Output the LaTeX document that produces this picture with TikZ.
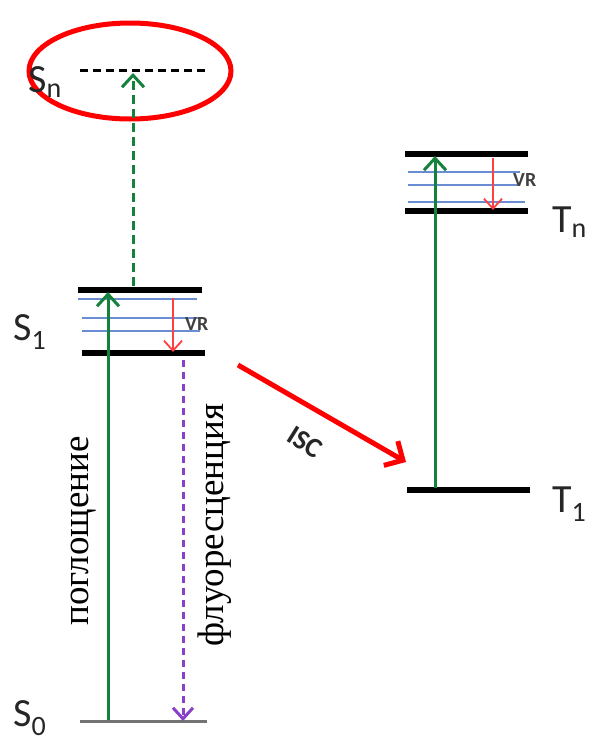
\documentclass[tikz,border=0pt]{standalone}
\usepackage{fontspec}
\setmainfont{Carlito}
\newfontfamily\rusfont{Liberation Serif}
\usetikzlibrary{arrows.meta,shapes.geometric}
\definecolor{vibblue}{RGB}{105,140,210}
\definecolor{fluor}{RGB}{135,65,200}
\definecolor{absgreen}{RGB}{20,130,60}
\begin{document}
\begin{tikzpicture}[x=1pt,y=-1pt,
  level/.style={line width=6pt,black},
  vib/.style={line width=1.4pt,color=vibblue},
  vr/.style={line width=1.8pt,color=red!75,-{Straight Barb[length=10pt,width=18pt,line width=1.8pt]}},
  excite/.style={line width=3pt,color=absgreen,-{Straight Barb[length=12pt,width=22pt,line width=3pt]}},
  lbl/.style={font=\fontsize{40}{46}\selectfont,text=black!85,inner sep=0pt},
  vrlbl/.style={font=\fontsize{20}{24}\selectfont\bfseries,text=black!75,inner sep=0pt},
  ruslbl/.style={font=\rusfont\fontsize{37}{42}\selectfont,rotate=90,inner sep=0pt}]
\useasboundingbox (0,0) rectangle (590,745);
% Sn
\draw[line width=3pt,dash pattern=on 8pt off 5pt] (80,70) coordinate (sna) -- (205,70) coordinate (snb);
\node[draw=red,line width=5pt,ellipse,minimum width=202pt,minimum height=96pt] (ell) at (130,71) {};
\node[lbl,anchor=base west] (Sn) at (28,92) {S\textsubscript{n}};
% S1 levels
\draw[level] (78,290) coordinate (s1ua) -- (202,290) coordinate (s1ub);
\draw[level] (82,353) coordinate (s1la) -- (205,353) coordinate (s1lb);
\draw[vib] (78,299) -- (197,299);
\draw[vib] (82,318) -- (200,318);
\draw[vib] (82,331) -- (200,331);
\coordinate (vr1a) at (173,298); \coordinate (vr1b) at (173,352);
\draw[vr] (vr1a) -- (vr1b);
\node[vrlbl,anchor=west] (vr1) at (185,324) {VR};
\node[lbl,anchor=base west] (S1) at (13,340) {S\textsubscript{1}};
% S0
\draw[line width=3pt,black!55] (80,721) coordinate (s0a) -- (207,721) coordinate (s0b);
\node[lbl,anchor=base west] (S0) at (13,726) {S\textsubscript{0}};
% absorption
\coordinate (absa) at (108,720); \coordinate (absb) at (108,292);
\draw[excite] (absa) -- (absb);
\coordinate (sna2) at (133,286); \coordinate (snb2) at (133,73);
\draw[excite,dash pattern=on 9pt off 5pt] (sna2) -- (snb2);
% fluorescence
\coordinate (fla) at (183,360); \coordinate (flb) at (183,721);
\draw[line width=3pt,color=fluor,dash pattern=on 7pt off 5pt,-{Straight Barb[length=11pt,width=20pt,line width=3pt]}] (fla) -- (flb);
\node[ruslbl] (abs) at (84,531) {поглощение};
\node[ruslbl] (fl) at (215,525) {флуоресценция};
% Tn
\draw[level] (405,154) coordinate (tnua) -- (528,154) coordinate (tnub);
\draw[level] (405,211) coordinate (tnla) -- (528,211) coordinate (tnlb);
\draw[vib] (408,172) -- (520,172);
\draw[vib] (408,185) -- (520,185);
\draw[vib] (408,202) -- (525,202);
\coordinate (vr2a) at (493,158); \coordinate (vr2b) at (493,210);
\draw[vr] (vr2a) -- (vr2b);
\node[vrlbl,anchor=west] (vr2) at (513,180) {VR};
\node[lbl,anchor=base west] (Tn) at (552,232) {T\textsubscript{n}};
% T1
\draw[level] (407,490) coordinate (t1a) -- (530,490) coordinate (t1b);
\node[lbl,anchor=base west] (T1) at (552,512) {T\textsubscript{1}};
\coordinate (tua) at (435,488); \coordinate (tub) at (435,156);
\draw[excite] (tua) -- (tub);
% ISC
\coordinate (isca) at (238,365); \coordinate (iscb) at (406,462);
\draw[line width=5pt,red,-{Straight Barb[length=14pt,width=28pt,line width=5pt]}] (isca) -- (iscb);
\node[font=\fontsize{28}{32}\selectfont\bfseries,text=black!85,rotate=-32,inner sep=0pt] (isc) at (305,442) {ISC};
\end{tikzpicture}
\end{document}
